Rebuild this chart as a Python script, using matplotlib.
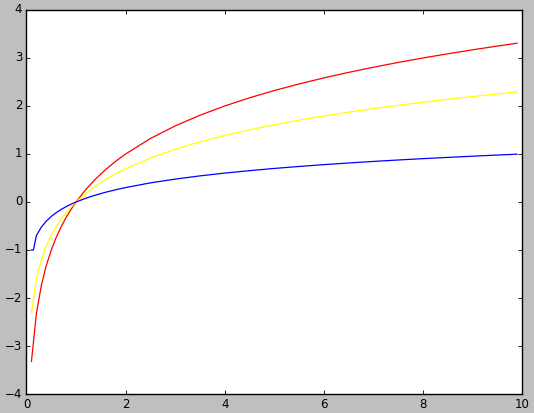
import matplotlib
matplotlib.use("Agg")
import matplotlib.pyplot as plt

plt.style.use('classic')

x = [0.1, 0.2, 0.3, 0.4, 0.5, 0.6, 0.7, 0.8, 0.9, 1.0, 1.2, 1.4, 1.6, 1.8, 2.0,
     2.5, 3.0, 3.5, 4.0, 4.5, 5.0, 5.5, 6.0, 6.5, 7.0, 7.5, 8.0, 8.5, 9.0, 9.5, 9.9]

red_y = [-3.322, -2.322, -1.737, -1.322, -1.000, -0.737, -0.515, -0.322, -0.152, 0.000,
         0.263, 0.485, 0.678, 0.848, 1.000, 1.322, 1.585, 1.807, 2.000, 2.170, 2.322,
         2.459, 2.585, 2.700, 2.807, 2.907, 3.000, 3.087, 3.170, 3.248, 3.308]

yellow_y = [-2.303, -1.609, -1.204, -0.916, -0.693, -0.511, -0.357, -0.223, -0.105, 0.000,
            0.182, 0.336, 0.470, 0.588, 0.693, 0.916, 1.099, 1.253, 1.386, 1.504, 1.609,
            1.705, 1.792, 1.872, 1.946, 2.015, 2.079, 2.140, 2.197, 2.251, 2.293]

blue_x = [0.1, 0.14, 0.2, 0.3, 0.4, 0.5, 0.6, 0.7, 0.8, 0.9, 1.0, 1.2, 1.4, 1.6, 1.8, 2.0,
          2.5, 3.0, 3.5, 4.0, 4.5, 5.0, 5.5, 6.0, 6.5, 7.0, 7.5, 8.0, 8.5, 9.0, 9.5, 9.9]
blue_y = [-1.000, -1.000, -0.699, -0.523, -0.398, -0.301, -0.222, -0.155, -0.097, -0.046,
          0.000, 0.079, 0.146, 0.204, 0.255, 0.301, 0.398, 0.477, 0.544, 0.602, 0.653,
          0.699, 0.740, 0.778, 0.813, 0.845, 0.875, 0.903, 0.929, 0.954, 0.978, 0.996]

fig = plt.figure(figsize=(5.34, 4.13), dpi=100, facecolor='#bfbfbf')
ax = fig.add_axes([0.0496, 0.046, 0.9279, 0.9298])
ax.plot(x, red_y, color='red', lw=0.9)
ax.plot(x, yellow_y, color='yellow', lw=0.9)
ax.plot(blue_x, blue_y, color='blue', lw=0.9)
ax.set_xlim(0, 10)
ax.set_ylim(-4, 4)
ax.set_xticks([0, 2, 4, 6, 8, 10])
ax.set_yticks([-4, -3, -2, -1, 0, 1, 2, 3, 4])
ax.tick_params(direction='in', length=3, width=0.6, labelsize=8.5, pad=3,
               top=True, right=True)
for s in ax.spines.values():
    s.set_linewidth(1.0)
fig.savefig('out.png', dpi=100, facecolor=fig.get_facecolor())
